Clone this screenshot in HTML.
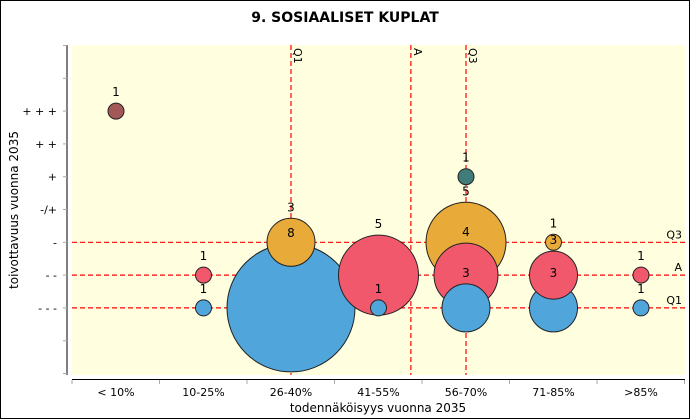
<!DOCTYPE html>
<html><head><meta charset="utf-8"><style>
html,body{margin:0;padding:0;background:#fff}
svg{display:block;font-family:"DejaVu Sans","Liberation Sans",sans-serif}
</style></head><body>
<svg id="chart" width="690" height="419">
<rect x="0.5" y="0.5" width="689" height="418" fill="#fff" stroke="#000"/>
<text x="345" y="22" text-anchor="middle" font-size="14" font-weight="bold">9. SOSIAALISET KUPLAT</text>
<rect x="72" y="45" width="613" height="330" fill="#ffffe0"/>
<g id="axes"></g>
<g id="refs"></g>
<g id="bubbles"></g>
<g id="labels"></g>
<text x="378" y="412" text-anchor="middle" font-size="12">todennäköisyys vuonna 2035</text>
<text transform="translate(18,210) rotate(-90)" text-anchor="middle" font-size="12">toivottavuus vuonna 2035</text>
</svg>
<script>
const categories=["< 10%","10-25%","26-40%","41-55%","56-70%","71-85%",">85%"];
const yTickLabels=["+ + +","+ +","+","-/+","-","- -","- - -"];
const yTickValues=[3,2,1,0,-1,-2,-3];
const bubbleCat=[0,1,1,2,2,3,3,4,4,4,4,5,5,5,6,6];
const bubbleLevel=[3,-2,-3,-1,-3,-2,-3,1,-1,-2,-3,-1,-2,-3,-2,-3];
const bubbleCount=[1,1,1,3,8,5,1,1,5,4,3,1,3,3,1,1];
const bubbleSeries=["dark","red","blue","orange","blue","red","blue","teal","orange","red","blue","orange","red","blue","red","blue"];
const refX=[["Q1",2.0],["A",3.37],["Q3",4.0]];
const refY=[["Q3",-1],["A",-2],["Q1",-3]];
const colors={dark:"#a35858",red:"#f2586c",blue:"#50a5db",orange:"#e8aa38",teal:"#3f7c7a"};
const NS="http://www.w3.org/2000/svg";
const x=i=>116+87.5*i;
const xb=i=>72+87.5*i;
const y=v=>209.5-32.8*v;
const rr=c=>8*c;
function el(tag,attrs,parent){const e=document.createElementNS(NS,tag);for(const k in attrs)e.setAttribute(k,attrs[k]);parent.appendChild(e);return e;}
const axes=document.getElementById('axes');
let e=el('line',{x1:67,y1:45,x2:67,y2:375,stroke:'#000'},axes);


for(let v=-5;v<=5;v++){e=el('line',{x1:63,y1:y(v),x2:67,y2:y(v),stroke:'#aaa'},axes);

}
yTickLabels.forEach((t,i)=>{e=el('text',{x:57,y:y(yTickValues[i])+4,'text-anchor':'end','font-size':11},axes);e.textContent=t;

});
e=el('line',{x1:72,y1:379.5,x2:685,y2:379.5,stroke:'#000'},axes);


for(let i=0;i<=categories.length;i++){e=el('line',{x1:xb(i),y1:380,x2:xb(i),y2:384,stroke:'#aaa'},axes);

}
categories.forEach((c,i)=>{e=el('text',{x:x(i),y:396,'text-anchor':'middle','font-size':11},axes);e.textContent=c;

});
const refs=document.getElementById('refs');
refY.forEach(([n,v])=>{e=el('line',{x1:72,y1:y(v),x2:685,y2:y(v),stroke:'#ff0000','stroke-width':1.2,'stroke-dasharray':'5,3'},refs);


const t=el('text',{x:682,y:y(v)-4,'text-anchor':'end','font-size':11},refs);t.textContent=n;

});
refX.forEach(([n,v])=>{const xx=x(v);e=el('line',{x1:xx,y1:45,x2:xx,y2:375,stroke:'#ff0000','stroke-width':1.2,'stroke-dasharray':'5,3'},refs);


const t=el('text',{transform:`translate(${xx+3},48) rotate(90)`,'font-size':11},refs);t.textContent=n;

});
const order=bubbleCount.map((c,i)=>i).sort((a,b)=>(bubbleCount[b]-bubbleCount[a])||((bubbleSeries[a]==='blue')-(bubbleSeries[b]==='blue'))*-1);
const bg=document.getElementById('bubbles'),lg=document.getElementById('labels');
order.forEach(i=>{e=el('circle',{cx:x(bubbleCat[i]),cy:y(bubbleLevel[i]),r:rr(bubbleCount[i]),fill:colors[bubbleSeries[i]],stroke:'#222','stroke-width':1},bg);

});
bubbleCount.forEach((c,i)=>{e=el('text',{x:x(bubbleCat[i]),y:y(bubbleLevel[i])-rr(c)-7,'text-anchor':'middle','font-size':12},lg);e.textContent=c;

});
</script>
</body></html>
